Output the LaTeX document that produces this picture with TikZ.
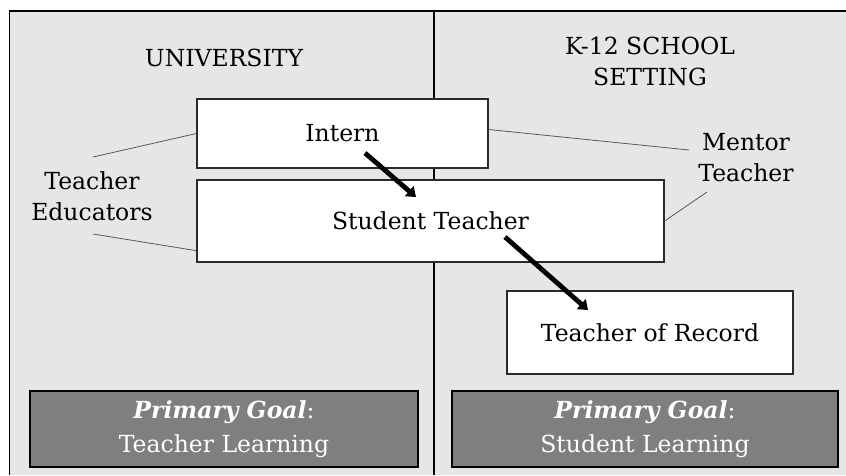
\documentclass[tikz,border=0pt]{standalone}
\usepackage{fontspec}
\setmainfont{DejaVu Serif}
\usetikzlibrary{arrows.meta,calc}
\definecolor{panel}{HTML}{E7E5E6}
\definecolor{goalgray}{HTML}{7F7F7F}
\definecolor{edge}{HTML}{2A2A2A}
\begin{document}
\begin{tikzpicture}[x=1pt,y=-1pt,
  every node/.style={font=\fontsize{23.5}{31}\selectfont, align=center, inner sep=0pt},
  rolebox/.style={draw=edge, line width=1.3pt, fill=white},
  goalbox/.style={draw=black, line width=1.6pt, fill=goalgray, text=white,
    font=\fontsize{23.5}{34}\selectfont},
  leader/.style={draw=black!65, line width=0.8pt},
  move/.style={line width=4.8pt, -{Triangle[length=9pt,width=13pt]}}
]
\useasboundingbox (0,0) rectangle (846,475);
% two panels
\fill[panel] (9.5,11) rectangle (846,475);
\draw[line width=1.3pt] (9.5,475) -- (9.5,11) -- (846,11);
\draw[line width=1.3pt] (434,11) -- (434,475);

% headings
\node (uni) at (224,57.5) {UNIVERSITY};
\node (school) at (650,61) {K-12 SCHOOL\\SETTING};

% roles
\node[rolebox, minimum width=291pt, minimum height=69pt] (intern) at (342.5,133.5) {Intern};
\node[rolebox, minimum width=467pt, minimum height=82pt] (student) at (430.5,221) {Student Teacher};
\node[rolebox, minimum width=286pt, minimum height=83pt] (record) at (650,332.5) {Teacher of Record};

% side labels
\node (edu) at (92,196) {Teacher\\Educators};
\node (mentor) at (746,158) {Mentor\\Teacher};

% leader lines
\coordinate (edutop) at (93,157);
\coordinate (edubot) at (93,234);
\coordinate (mentop) at (689,150);
\coordinate (menbot) at (707,192);
\draw[leader] (edutop) -- (intern.west);
\draw[leader] (edubot) -- ($(student.south west)+(0,-12)$);
\draw[leader] ($(intern.east)+(0,-4)$) -- (mentop);
\draw[leader] (student.east) -- (menbot);

% progression arrows
\coordinate (a1s) at (365,153);
\coordinate (a1e) at (416,197);
\coordinate (a2s) at (505,237);
\coordinate (a2e) at (588,310);
\draw[move] (a1s) -- (a1e);
\draw[move] (a2s) -- (a2e);

% goals
\node[goalbox, minimum width=388pt, minimum height=76pt] (goalU) at (224,429)
  {\textbf{\textit{Primary Goal}}:\\Teacher Learning};
\node[goalbox, minimum width=386pt, minimum height=76pt] (goalS) at (645,429)
  {\textbf{\textit{Primary Goal}}:\\Student Learning};
\end{tikzpicture}
\end{document}
